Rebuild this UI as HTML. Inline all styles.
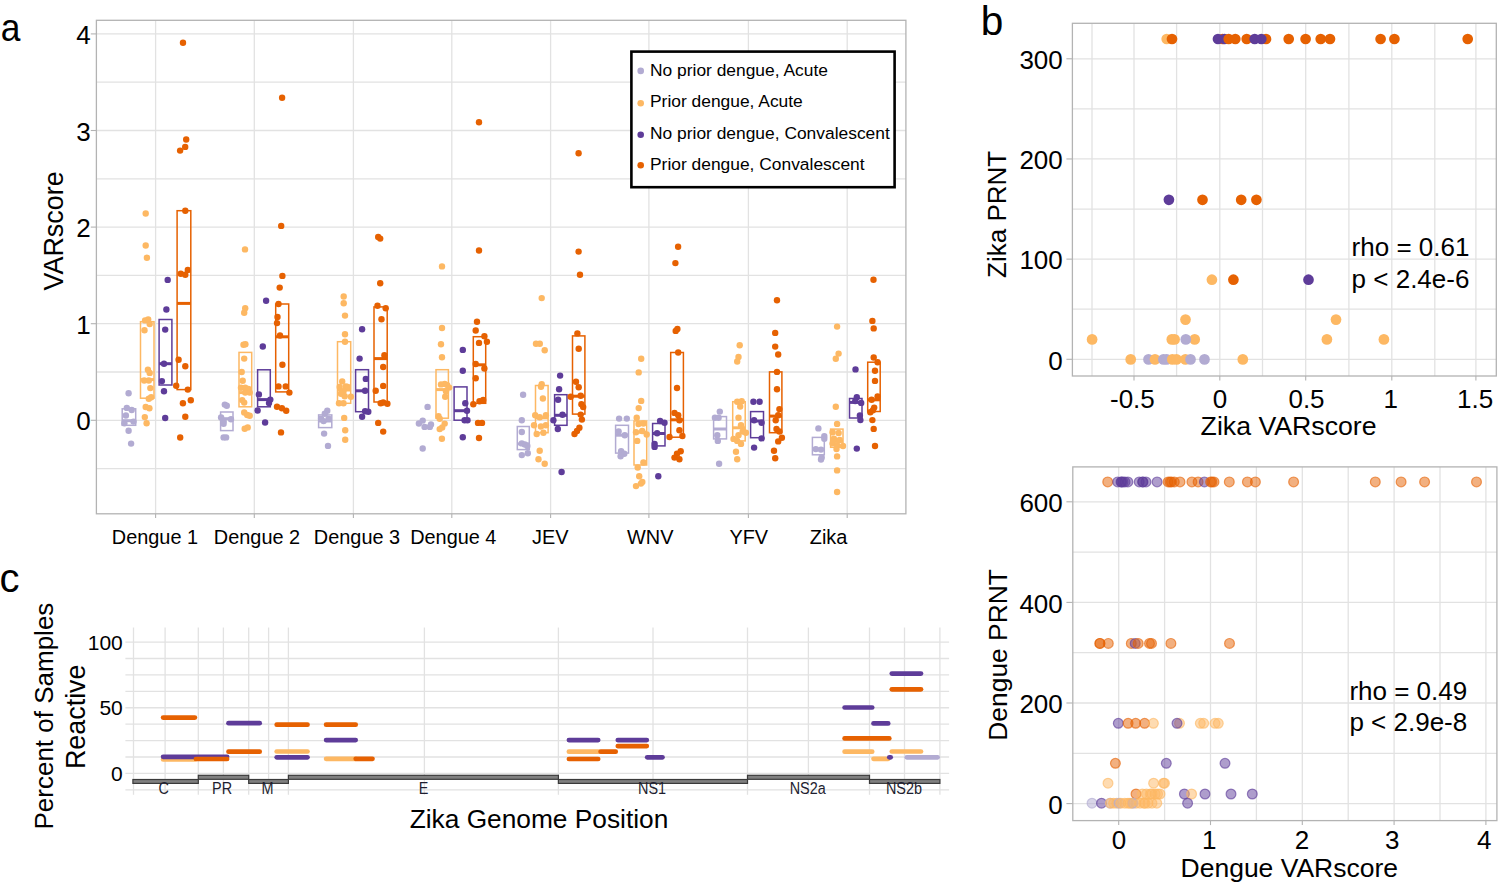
<!DOCTYPE html><html><head><meta charset="utf-8"><style>html,body{margin:0;padding:0;background:#fff;}svg{display:block;font-family:"Liberation Sans",sans-serif;}</style></head><body>
<svg width="1500" height="886" viewBox="0 0 1500 886">
<rect x="0" y="0" width="1500" height="886" fill="#fff"/>
<line x1="96.4" y1="33.9" x2="905.9" y2="33.9" stroke="#e2e2e2" stroke-width="1.3"/>
<line x1="96.4" y1="82.2" x2="905.9" y2="82.2" stroke="#e2e2e2" stroke-width="1.3"/>
<line x1="96.4" y1="130.5" x2="905.9" y2="130.5" stroke="#e2e2e2" stroke-width="1.3"/>
<line x1="96.4" y1="178.8" x2="905.9" y2="178.8" stroke="#e2e2e2" stroke-width="1.3"/>
<line x1="96.4" y1="227.1" x2="905.9" y2="227.1" stroke="#e2e2e2" stroke-width="1.3"/>
<line x1="96.4" y1="275.4" x2="905.9" y2="275.4" stroke="#e2e2e2" stroke-width="1.3"/>
<line x1="96.4" y1="323.7" x2="905.9" y2="323.7" stroke="#e2e2e2" stroke-width="1.3"/>
<line x1="96.4" y1="372" x2="905.9" y2="372" stroke="#e2e2e2" stroke-width="1.3"/>
<line x1="96.4" y1="420.3" x2="905.9" y2="420.3" stroke="#e2e2e2" stroke-width="1.3"/>
<line x1="96.4" y1="468.6" x2="905.9" y2="468.6" stroke="#e2e2e2" stroke-width="1.3"/>
<line x1="155.6" y1="20.3" x2="155.6" y2="513.8" stroke="#e2e2e2" stroke-width="1.3"/>
<line x1="254.3" y1="20.3" x2="254.3" y2="513.8" stroke="#e2e2e2" stroke-width="1.3"/>
<line x1="353.4" y1="20.3" x2="353.4" y2="513.8" stroke="#e2e2e2" stroke-width="1.3"/>
<line x1="451.8" y1="20.3" x2="451.8" y2="513.8" stroke="#e2e2e2" stroke-width="1.3"/>
<line x1="550.6" y1="20.3" x2="550.6" y2="513.8" stroke="#e2e2e2" stroke-width="1.3"/>
<line x1="648.9" y1="20.3" x2="648.9" y2="513.8" stroke="#e2e2e2" stroke-width="1.3"/>
<line x1="748.4" y1="20.3" x2="748.4" y2="513.8" stroke="#e2e2e2" stroke-width="1.3"/>
<line x1="847.2" y1="20.3" x2="847.2" y2="513.8" stroke="#e2e2e2" stroke-width="1.3"/>
<rect x="96.4" y="20.3" width="809.5" height="493.5" fill="none" stroke="#b3b3b3" stroke-width="1.3"/>
<line x1="90.8" y1="420.3" x2="96.4" y2="420.3" stroke="#b3b3b3" stroke-width="1.1"/>
<text x="90.8" y="430.3" font-size="26" text-anchor="end" fill="#000">0</text>
<line x1="90.8" y1="323.7" x2="96.4" y2="323.7" stroke="#b3b3b3" stroke-width="1.1"/>
<text x="90.8" y="333.7" font-size="26" text-anchor="end" fill="#000">1</text>
<line x1="90.8" y1="227.1" x2="96.4" y2="227.1" stroke="#b3b3b3" stroke-width="1.1"/>
<text x="90.8" y="237.1" font-size="26" text-anchor="end" fill="#000">2</text>
<line x1="90.8" y1="130.5" x2="96.4" y2="130.5" stroke="#b3b3b3" stroke-width="1.1"/>
<text x="90.8" y="140.5" font-size="26" text-anchor="end" fill="#000">3</text>
<line x1="90.8" y1="33.9" x2="96.4" y2="33.9" stroke="#b3b3b3" stroke-width="1.1"/>
<text x="90.8" y="43.9" font-size="26" text-anchor="end" fill="#000">4</text>
<line x1="155.6" y1="513.8" x2="155.6" y2="518" stroke="#b3b3b3" stroke-width="1.1"/>
<line x1="254.3" y1="513.8" x2="254.3" y2="518" stroke="#b3b3b3" stroke-width="1.1"/>
<line x1="353.4" y1="513.8" x2="353.4" y2="518" stroke="#b3b3b3" stroke-width="1.1"/>
<line x1="451.8" y1="513.8" x2="451.8" y2="518" stroke="#b3b3b3" stroke-width="1.1"/>
<line x1="550.6" y1="513.8" x2="550.6" y2="518" stroke="#b3b3b3" stroke-width="1.1"/>
<line x1="648.9" y1="513.8" x2="648.9" y2="518" stroke="#b3b3b3" stroke-width="1.1"/>
<line x1="748.4" y1="513.8" x2="748.4" y2="518" stroke="#b3b3b3" stroke-width="1.1"/>
<line x1="847.2" y1="513.8" x2="847.2" y2="518" stroke="#b3b3b3" stroke-width="1.1"/>
<text x="154.9" y="543.8" font-size="19.9" text-anchor="middle" fill="#000">Dengue 1</text>
<text x="257" y="543.8" font-size="19.9" text-anchor="middle" fill="#000">Dengue 2</text>
<text x="357" y="543.8" font-size="19.9" text-anchor="middle" fill="#000">Dengue 3</text>
<text x="453.3" y="543.8" font-size="19.9" text-anchor="middle" fill="#000">Dengue 4</text>
<text x="550.3" y="543.8" font-size="19.9" text-anchor="middle" fill="#000">JEV</text>
<text x="650.3" y="543.8" font-size="19.9" text-anchor="middle" fill="#000">WNV</text>
<text x="748.8" y="543.8" font-size="19.9" text-anchor="middle" fill="#000">YFV</text>
<text x="828.6" y="543.8" font-size="19.9" text-anchor="middle" fill="#000">Zika</text>
<text transform="translate(62.8,230.9) rotate(-90)" x="0" y="0" font-size="26.9" text-anchor="middle" fill="#000">VARscore</text>
<text transform="translate(0.8,41.3) scale(0.92,1)" x="0" y="0" font-size="38.5" text-anchor="start" fill="#000">a</text>
<rect x="122.2" y="408.8" width="13.5" height="16.5" fill="none" stroke="#b2abd2" stroke-width="1.5"/>
<line x1="122.2" y1="420.7" x2="135.7" y2="420.7" stroke="#b2abd2" stroke-width="3"/>
<circle cx="128.6" cy="393.3" r="3.2" fill="#b2abd2"/>
<circle cx="126.8" cy="407.9" r="3.2" fill="#b2abd2"/>
<circle cx="131.7" cy="410" r="3.2" fill="#b2abd2"/>
<circle cx="125.9" cy="415.5" r="3.2" fill="#b2abd2"/>
<circle cx="133.5" cy="421.6" r="3.2" fill="#b2abd2"/>
<circle cx="124.4" cy="423.2" r="3.2" fill="#b2abd2"/>
<circle cx="128.6" cy="430.8" r="3.2" fill="#b2abd2"/>
<circle cx="131.1" cy="443.6" r="3.2" fill="#b2abd2"/>
<rect x="140.5" y="321.7" width="13.5" height="76.5" fill="none" stroke="#fdb863" stroke-width="1.5"/>
<line x1="140.5" y1="379.6" x2="154" y2="379.6" stroke="#fdb863" stroke-width="3"/>
<circle cx="145.7" cy="213.5" r="3.2" fill="#fdb863"/>
<circle cx="145.7" cy="245.5" r="3.2" fill="#fdb863"/>
<circle cx="146.9" cy="257.7" r="3.2" fill="#fdb863"/>
<circle cx="145.1" cy="320.4" r="3.2" fill="#fdb863"/>
<circle cx="148.2" cy="319.5" r="3.2" fill="#fdb863"/>
<circle cx="149.7" cy="324.1" r="3.2" fill="#fdb863"/>
<circle cx="144.5" cy="330.2" r="3.2" fill="#fdb863"/>
<circle cx="147.9" cy="369.8" r="3.2" fill="#fdb863"/>
<circle cx="149.7" cy="372.9" r="3.2" fill="#fdb863"/>
<circle cx="144.2" cy="380.5" r="3.2" fill="#fdb863"/>
<circle cx="148.8" cy="380.5" r="3.2" fill="#fdb863"/>
<circle cx="150.3" cy="388.1" r="3.2" fill="#fdb863"/>
<circle cx="151.2" cy="397.3" r="3.2" fill="#fdb863"/>
<circle cx="148.8" cy="398.8" r="3.2" fill="#fdb863"/>
<circle cx="145.7" cy="407" r="3.2" fill="#fdb863"/>
<circle cx="149.4" cy="408.2" r="3.2" fill="#fdb863"/>
<circle cx="144.8" cy="417.1" r="3.2" fill="#fdb863"/>
<circle cx="146.6" cy="423.2" r="3.2" fill="#fdb863"/>
<rect x="159.1" y="319.5" width="12.8" height="65.5" fill="none" stroke="#5e3c99" stroke-width="1.5"/>
<line x1="159.1" y1="363.7" x2="171.9" y2="363.7" stroke="#5e3c99" stroke-width="3"/>
<circle cx="167.7" cy="279.9" r="3.2" fill="#5e3c99"/>
<circle cx="166.4" cy="309.5" r="3.2" fill="#5e3c99"/>
<circle cx="165.2" cy="329.6" r="3.2" fill="#5e3c99"/>
<circle cx="164" cy="363.7" r="3.2" fill="#5e3c99"/>
<circle cx="161.9" cy="381.1" r="3.2" fill="#5e3c99"/>
<circle cx="164" cy="391.2" r="3.2" fill="#5e3c99"/>
<circle cx="165.2" cy="418" r="3.2" fill="#5e3c99"/>
<rect x="177.1" y="210.7" width="13.7" height="178.9" fill="none" stroke="#e66101" stroke-width="1.5"/>
<line x1="177.1" y1="303.4" x2="190.8" y2="303.4" stroke="#e66101" stroke-width="3"/>
<circle cx="183" cy="42.8" r="3.2" fill="#e66101"/>
<circle cx="186.2" cy="139.5" r="3.2" fill="#e66101"/>
<circle cx="185.2" cy="146.9" r="3.2" fill="#e66101"/>
<circle cx="180.1" cy="150.6" r="3.2" fill="#e66101"/>
<circle cx="185.3" cy="210.7" r="3.2" fill="#e66101"/>
<circle cx="180.8" cy="273.8" r="3.2" fill="#e66101"/>
<circle cx="185.3" cy="274.7" r="3.2" fill="#e66101"/>
<circle cx="187.8" cy="269.9" r="3.2" fill="#e66101"/>
<circle cx="178.6" cy="359.8" r="3.2" fill="#e66101"/>
<circle cx="185.3" cy="366.2" r="3.2" fill="#e66101"/>
<circle cx="176.2" cy="385.7" r="3.2" fill="#e66101"/>
<circle cx="187.8" cy="389.6" r="3.2" fill="#e66101"/>
<circle cx="182.9" cy="403.3" r="3.2" fill="#e66101"/>
<circle cx="190.8" cy="400.3" r="3.2" fill="#e66101"/>
<circle cx="185.3" cy="416.8" r="3.2" fill="#e66101"/>
<circle cx="180.2" cy="437.5" r="3.2" fill="#e66101"/>
<rect x="220.6" y="412" width="12.4" height="18.6" fill="none" stroke="#b2abd2" stroke-width="1.5"/>
<line x1="220.6" y1="418.7" x2="233" y2="418.7" stroke="#b2abd2" stroke-width="3"/>
<circle cx="224.8" cy="404.6" r="3.2" fill="#b2abd2"/>
<circle cx="226.8" cy="405.8" r="3.2" fill="#b2abd2"/>
<circle cx="221.1" cy="417.5" r="3.2" fill="#b2abd2"/>
<circle cx="223.6" cy="421.2" r="3.2" fill="#b2abd2"/>
<circle cx="231" cy="419.2" r="3.2" fill="#b2abd2"/>
<circle cx="223.6" cy="423.7" r="3.2" fill="#b2abd2"/>
<circle cx="223.6" cy="437.4" r="3.2" fill="#b2abd2"/>
<circle cx="226.1" cy="437.4" r="3.2" fill="#b2abd2"/>
<rect x="239" y="352.4" width="12.7" height="54.4" fill="none" stroke="#fdb863" stroke-width="1.5"/>
<line x1="239" y1="392.6" x2="251.7" y2="392.6" stroke="#fdb863" stroke-width="3"/>
<circle cx="245" cy="249.4" r="3.2" fill="#fdb863"/>
<circle cx="245.2" cy="308.2" r="3.2" fill="#fdb863"/>
<circle cx="244.2" cy="312.7" r="3.2" fill="#fdb863"/>
<circle cx="243.5" cy="344.7" r="3.2" fill="#fdb863"/>
<circle cx="245.4" cy="344.2" r="3.2" fill="#fdb863"/>
<circle cx="244.2" cy="358.6" r="3.2" fill="#fdb863"/>
<circle cx="241.7" cy="372" r="3.2" fill="#fdb863"/>
<circle cx="242.7" cy="380.7" r="3.2" fill="#fdb863"/>
<circle cx="241" cy="387.7" r="3.2" fill="#fdb863"/>
<circle cx="245.2" cy="387.7" r="3.2" fill="#fdb863"/>
<circle cx="248.4" cy="388.9" r="3.2" fill="#fdb863"/>
<circle cx="245.2" cy="392.6" r="3.2" fill="#fdb863"/>
<circle cx="249.7" cy="392.6" r="3.2" fill="#fdb863"/>
<circle cx="242.2" cy="400.1" r="3.2" fill="#fdb863"/>
<circle cx="244.2" cy="402.6" r="3.2" fill="#fdb863"/>
<circle cx="244.2" cy="412.5" r="3.2" fill="#fdb863"/>
<circle cx="247.2" cy="415" r="3.2" fill="#fdb863"/>
<circle cx="249.7" cy="415.7" r="3.2" fill="#fdb863"/>
<circle cx="244.7" cy="428.7" r="3.2" fill="#fdb863"/>
<circle cx="247.7" cy="427.4" r="3.2" fill="#fdb863"/>
<rect x="257.6" y="369.8" width="12.7" height="37" fill="none" stroke="#5e3c99" stroke-width="1.5"/>
<line x1="257.6" y1="399.6" x2="270.3" y2="399.6" stroke="#5e3c99" stroke-width="3"/>
<circle cx="266.1" cy="300.8" r="3.2" fill="#5e3c99"/>
<circle cx="262.8" cy="346.5" r="3.2" fill="#5e3c99"/>
<circle cx="258.9" cy="394.4" r="3.2" fill="#5e3c99"/>
<circle cx="270.3" cy="399.6" r="3.2" fill="#5e3c99"/>
<circle cx="269" cy="403.1" r="3.2" fill="#5e3c99"/>
<circle cx="257.6" cy="410.5" r="3.2" fill="#5e3c99"/>
<circle cx="265.1" cy="422.5" r="3.2" fill="#5e3c99"/>
<rect x="275.7" y="304" width="13" height="87.9" fill="none" stroke="#e66101" stroke-width="1.5"/>
<line x1="275.7" y1="336.8" x2="288.7" y2="336.8" stroke="#e66101" stroke-width="3"/>
<circle cx="282.1" cy="97.7" r="3.2" fill="#e66101"/>
<circle cx="281.2" cy="225.9" r="3.2" fill="#e66101"/>
<circle cx="282.4" cy="275.9" r="3.2" fill="#e66101"/>
<circle cx="279.7" cy="287.6" r="3.2" fill="#e66101"/>
<circle cx="278.5" cy="304" r="3.2" fill="#e66101"/>
<circle cx="277.5" cy="316.9" r="3.2" fill="#e66101"/>
<circle cx="277" cy="323.1" r="3.2" fill="#e66101"/>
<circle cx="280" cy="335.5" r="3.2" fill="#e66101"/>
<circle cx="282.4" cy="364.8" r="3.2" fill="#e66101"/>
<circle cx="278.5" cy="386.4" r="3.2" fill="#e66101"/>
<circle cx="285.7" cy="386.4" r="3.2" fill="#e66101"/>
<circle cx="289.4" cy="392.6" r="3.2" fill="#e66101"/>
<circle cx="277" cy="406.8" r="3.2" fill="#e66101"/>
<circle cx="281.9" cy="408.3" r="3.2" fill="#e66101"/>
<circle cx="286.2" cy="410.8" r="3.2" fill="#e66101"/>
<circle cx="281" cy="432.4" r="3.2" fill="#e66101"/>
<rect x="318.6" y="414.9" width="13.2" height="12.7" fill="none" stroke="#b2abd2" stroke-width="1.5"/>
<line x1="318.6" y1="421" x2="331.8" y2="421" stroke="#b2abd2" stroke-width="3"/>
<circle cx="327.3" cy="410.7" r="3.2" fill="#b2abd2"/>
<circle cx="324.8" cy="413.7" r="3.2" fill="#b2abd2"/>
<circle cx="321.1" cy="418.7" r="3.2" fill="#b2abd2"/>
<circle cx="323.6" cy="421.1" r="3.2" fill="#b2abd2"/>
<circle cx="328.6" cy="418.7" r="3.2" fill="#b2abd2"/>
<circle cx="324.1" cy="433.6" r="3.2" fill="#b2abd2"/>
<circle cx="328" cy="445.9" r="3.2" fill="#b2abd2"/>
<rect x="337.5" y="341.7" width="13.2" height="61.6" fill="none" stroke="#fdb863" stroke-width="1.5"/>
<line x1="337.5" y1="390" x2="350.7" y2="390" stroke="#fdb863" stroke-width="3"/>
<circle cx="343.7" cy="296.5" r="3.2" fill="#fdb863"/>
<circle cx="343.7" cy="303.2" r="3.2" fill="#fdb863"/>
<circle cx="345" cy="315.6" r="3.2" fill="#fdb863"/>
<circle cx="345" cy="334.2" r="3.2" fill="#fdb863"/>
<circle cx="345" cy="341.7" r="3.2" fill="#fdb863"/>
<circle cx="342.2" cy="381.4" r="3.2" fill="#fdb863"/>
<circle cx="339.7" cy="386.9" r="3.2" fill="#fdb863"/>
<circle cx="345.9" cy="386.4" r="3.2" fill="#fdb863"/>
<circle cx="347.7" cy="386.9" r="3.2" fill="#fdb863"/>
<circle cx="343.5" cy="391.3" r="3.2" fill="#fdb863"/>
<circle cx="341" cy="393.8" r="3.2" fill="#fdb863"/>
<circle cx="344.7" cy="396.3" r="3.2" fill="#fdb863"/>
<circle cx="350.9" cy="396.8" r="3.2" fill="#fdb863"/>
<circle cx="339" cy="403.3" r="3.2" fill="#fdb863"/>
<circle cx="343.5" cy="403.3" r="3.2" fill="#fdb863"/>
<circle cx="344.2" cy="417.9" r="3.2" fill="#fdb863"/>
<circle cx="345.2" cy="430.3" r="3.2" fill="#fdb863"/>
<circle cx="345.2" cy="439.8" r="3.2" fill="#fdb863"/>
<rect x="355.6" y="369.7" width="12.9" height="42" fill="none" stroke="#5e3c99" stroke-width="1.5"/>
<line x1="355.6" y1="390.8" x2="368.5" y2="390.8" stroke="#5e3c99" stroke-width="3"/>
<circle cx="362.1" cy="329.3" r="3.2" fill="#5e3c99"/>
<circle cx="359.6" cy="358.6" r="3.2" fill="#5e3c99"/>
<circle cx="365.8" cy="378.9" r="3.2" fill="#5e3c99"/>
<circle cx="365.1" cy="390.8" r="3.2" fill="#5e3c99"/>
<circle cx="365.1" cy="411.2" r="3.2" fill="#5e3c99"/>
<circle cx="368.3" cy="411.7" r="3.2" fill="#5e3c99"/>
<circle cx="362.1" cy="416.7" r="3.2" fill="#5e3c99"/>
<rect x="374" y="306.9" width="13.2" height="95.1" fill="none" stroke="#e66101" stroke-width="1.5"/>
<line x1="374" y1="358.6" x2="387.2" y2="358.6" stroke="#e66101" stroke-width="3"/>
<circle cx="378.2" cy="236.9" r="3.2" fill="#e66101"/>
<circle cx="380.2" cy="238.6" r="3.2" fill="#e66101"/>
<circle cx="380.2" cy="283.3" r="3.2" fill="#e66101"/>
<circle cx="377.5" cy="305.7" r="3.2" fill="#e66101"/>
<circle cx="385.7" cy="308.2" r="3.2" fill="#e66101"/>
<circle cx="381.5" cy="319.3" r="3.2" fill="#e66101"/>
<circle cx="384.4" cy="355.3" r="3.2" fill="#e66101"/>
<circle cx="383.2" cy="367" r="3.2" fill="#e66101"/>
<circle cx="383.2" cy="385.9" r="3.2" fill="#e66101"/>
<circle cx="375.7" cy="390.8" r="3.2" fill="#e66101"/>
<circle cx="380.7" cy="403.3" r="3.2" fill="#e66101"/>
<circle cx="383.2" cy="402.5" r="3.2" fill="#e66101"/>
<circle cx="387.4" cy="403.8" r="3.2" fill="#e66101"/>
<circle cx="378.2" cy="422.9" r="3.2" fill="#e66101"/>
<circle cx="383.2" cy="431.6" r="3.2" fill="#e66101"/>
<circle cx="427.6" cy="406.9" r="3.2" fill="#b2abd2"/>
<circle cx="418.9" cy="423.5" r="3.2" fill="#b2abd2"/>
<circle cx="422.7" cy="420.6" r="3.2" fill="#b2abd2"/>
<circle cx="424.6" cy="426.9" r="3.2" fill="#b2abd2"/>
<circle cx="429.8" cy="426.9" r="3.2" fill="#b2abd2"/>
<circle cx="431" cy="424.5" r="3.2" fill="#b2abd2"/>
<circle cx="422.7" cy="448.5" r="3.2" fill="#b2abd2"/>
<rect x="436" y="369.7" width="12.4" height="48.5" fill="none" stroke="#fdb863" stroke-width="1.5"/>
<line x1="436" y1="389.6" x2="448.4" y2="389.6" stroke="#fdb863" stroke-width="3"/>
<circle cx="442" cy="266.4" r="3.2" fill="#fdb863"/>
<circle cx="442" cy="328" r="3.2" fill="#fdb863"/>
<circle cx="441" cy="344.2" r="3.2" fill="#fdb863"/>
<circle cx="442" cy="357.3" r="3.2" fill="#fdb863"/>
<circle cx="441" cy="384.4" r="3.2" fill="#fdb863"/>
<circle cx="444.7" cy="383.9" r="3.2" fill="#fdb863"/>
<circle cx="447.2" cy="385.1" r="3.2" fill="#fdb863"/>
<circle cx="449.2" cy="387.6" r="3.2" fill="#fdb863"/>
<circle cx="446" cy="391.3" r="3.2" fill="#fdb863"/>
<circle cx="445.2" cy="396.8" r="3.2" fill="#fdb863"/>
<circle cx="438.5" cy="416.2" r="3.2" fill="#fdb863"/>
<circle cx="439.7" cy="418.7" r="3.2" fill="#fdb863"/>
<circle cx="444.7" cy="423.6" r="3.2" fill="#fdb863"/>
<circle cx="442.2" cy="427.4" r="3.2" fill="#fdb863"/>
<circle cx="439.7" cy="429.1" r="3.2" fill="#fdb863"/>
<circle cx="441.9" cy="438.7" r="3.2" fill="#fdb863"/>
<rect x="454.1" y="386.9" width="12.9" height="33.3" fill="none" stroke="#5e3c99" stroke-width="1.5"/>
<line x1="454.1" y1="410.7" x2="467" y2="410.7" stroke="#5e3c99" stroke-width="3"/>
<circle cx="462.8" cy="349.9" r="3.2" fill="#5e3c99"/>
<circle cx="462.8" cy="370.7" r="3.2" fill="#5e3c99"/>
<circle cx="465.3" cy="403.3" r="3.2" fill="#5e3c99"/>
<circle cx="467" cy="410.7" r="3.2" fill="#5e3c99"/>
<circle cx="464.6" cy="420.2" r="3.2" fill="#5e3c99"/>
<circle cx="467.5" cy="420.2" r="3.2" fill="#5e3c99"/>
<circle cx="462.8" cy="437.3" r="3.2" fill="#5e3c99"/>
<rect x="473.3" y="336.7" width="12.4" height="66.6" fill="none" stroke="#e66101" stroke-width="1.5"/>
<line x1="473.3" y1="364.8" x2="485.7" y2="364.8" stroke="#e66101" stroke-width="3"/>
<circle cx="479" cy="122.3" r="3.2" fill="#e66101"/>
<circle cx="479" cy="250.5" r="3.2" fill="#e66101"/>
<circle cx="477" cy="321.8" r="3.2" fill="#e66101"/>
<circle cx="475.7" cy="330.5" r="3.2" fill="#e66101"/>
<circle cx="484.4" cy="336.2" r="3.2" fill="#e66101"/>
<circle cx="486.9" cy="341.7" r="3.2" fill="#e66101"/>
<circle cx="479" cy="342.9" r="3.2" fill="#e66101"/>
<circle cx="475.7" cy="364" r="3.2" fill="#e66101"/>
<circle cx="484.4" cy="368.5" r="3.2" fill="#e66101"/>
<circle cx="475.7" cy="378.2" r="3.2" fill="#e66101"/>
<circle cx="473.3" cy="404.3" r="3.2" fill="#e66101"/>
<circle cx="479.5" cy="401.3" r="3.2" fill="#e66101"/>
<circle cx="483.2" cy="400" r="3.2" fill="#e66101"/>
<circle cx="478" cy="422.9" r="3.2" fill="#e66101"/>
<circle cx="482" cy="422.9" r="3.2" fill="#e66101"/>
<circle cx="479" cy="438" r="3.2" fill="#e66101"/>
<rect x="517.3" y="426.5" width="12" height="23.1" fill="none" stroke="#b2abd2" stroke-width="1.5"/>
<line x1="517.3" y1="443.9" x2="529.3" y2="443.9" stroke="#b2abd2" stroke-width="3"/>
<circle cx="523.1" cy="394.7" r="3.2" fill="#b2abd2"/>
<circle cx="521.8" cy="420.3" r="3.2" fill="#b2abd2"/>
<circle cx="521.8" cy="432" r="3.2" fill="#b2abd2"/>
<circle cx="521.8" cy="443.4" r="3.2" fill="#b2abd2"/>
<circle cx="524.8" cy="444.4" r="3.2" fill="#b2abd2"/>
<circle cx="527.3" cy="445.9" r="3.2" fill="#b2abd2"/>
<circle cx="521.8" cy="455.1" r="3.2" fill="#b2abd2"/>
<circle cx="527.8" cy="453.3" r="3.2" fill="#b2abd2"/>
<rect x="535.5" y="385.5" width="12.6" height="47.2" fill="none" stroke="#fdb863" stroke-width="1.5"/>
<line x1="535.5" y1="417.8" x2="548.1" y2="417.8" stroke="#fdb863" stroke-width="3"/>
<circle cx="541.7" cy="298.1" r="3.2" fill="#fdb863"/>
<circle cx="536" cy="343.8" r="3.2" fill="#fdb863"/>
<circle cx="539.8" cy="343.8" r="3.2" fill="#fdb863"/>
<circle cx="544.7" cy="350.3" r="3.2" fill="#fdb863"/>
<circle cx="541.7" cy="384.3" r="3.2" fill="#fdb863"/>
<circle cx="541" cy="386.8" r="3.2" fill="#fdb863"/>
<circle cx="542.9" cy="398.5" r="3.2" fill="#fdb863"/>
<circle cx="535.2" cy="415.3" r="3.2" fill="#fdb863"/>
<circle cx="539.7" cy="417.3" r="3.2" fill="#fdb863"/>
<circle cx="545.9" cy="415.3" r="3.2" fill="#fdb863"/>
<circle cx="534" cy="425.3" r="3.2" fill="#fdb863"/>
<circle cx="540.9" cy="426.5" r="3.2" fill="#fdb863"/>
<circle cx="545.9" cy="425.3" r="3.2" fill="#fdb863"/>
<circle cx="536.7" cy="434" r="3.2" fill="#fdb863"/>
<circle cx="543.4" cy="432.7" r="3.2" fill="#fdb863"/>
<circle cx="539.7" cy="450.8" r="3.2" fill="#fdb863"/>
<circle cx="538.5" cy="459.3" r="3.2" fill="#fdb863"/>
<circle cx="544.7" cy="463.8" r="3.2" fill="#fdb863"/>
<rect x="554.6" y="394.7" width="12.4" height="30.6" fill="none" stroke="#5e3c99" stroke-width="1.5"/>
<line x1="554.6" y1="415.3" x2="567" y2="415.3" stroke="#5e3c99" stroke-width="3"/>
<circle cx="560.1" cy="375.6" r="3.2" fill="#5e3c99"/>
<circle cx="559.1" cy="389.3" r="3.2" fill="#5e3c99"/>
<circle cx="558.1" cy="399.7" r="3.2" fill="#5e3c99"/>
<circle cx="562.5" cy="414.8" r="3.2" fill="#5e3c99"/>
<circle cx="553.4" cy="420.3" r="3.2" fill="#5e3c99"/>
<circle cx="557.8" cy="429" r="3.2" fill="#5e3c99"/>
<circle cx="561.6" cy="472" r="3.2" fill="#5e3c99"/>
<rect x="572.5" y="335.9" width="12.4" height="78.2" fill="none" stroke="#e66101" stroke-width="1.5"/>
<line x1="572.5" y1="396.2" x2="584.9" y2="396.2" stroke="#e66101" stroke-width="3"/>
<circle cx="578.6" cy="153.2" r="3.2" fill="#e66101"/>
<circle cx="578.6" cy="251.6" r="3.2" fill="#e66101"/>
<circle cx="580" cy="274.8" r="3.2" fill="#e66101"/>
<circle cx="577.4" cy="333.4" r="3.2" fill="#e66101"/>
<circle cx="578.7" cy="348.8" r="3.2" fill="#e66101"/>
<circle cx="576" cy="381.8" r="3.2" fill="#e66101"/>
<circle cx="578.7" cy="387.3" r="3.2" fill="#e66101"/>
<circle cx="570.7" cy="396.7" r="3.2" fill="#e66101"/>
<circle cx="580.7" cy="395.7" r="3.2" fill="#e66101"/>
<circle cx="581.4" cy="404.2" r="3.2" fill="#e66101"/>
<circle cx="583.2" cy="407.1" r="3.2" fill="#e66101"/>
<circle cx="580.7" cy="414.6" r="3.2" fill="#e66101"/>
<circle cx="581.9" cy="419.6" r="3.2" fill="#e66101"/>
<circle cx="579.4" cy="427.8" r="3.2" fill="#e66101"/>
<circle cx="577" cy="431" r="3.2" fill="#e66101"/>
<circle cx="574.5" cy="434" r="3.2" fill="#e66101"/>
<rect x="615.6" y="425.3" width="12.9" height="27.8" fill="none" stroke="#b2abd2" stroke-width="1.5"/>
<line x1="615.6" y1="435.2" x2="628.5" y2="435.2" stroke="#b2abd2" stroke-width="3"/>
<circle cx="619.1" cy="418.6" r="3.2" fill="#b2abd2"/>
<circle cx="626.8" cy="418.6" r="3.2" fill="#b2abd2"/>
<circle cx="618.6" cy="431.5" r="3.2" fill="#b2abd2"/>
<circle cx="624.8" cy="435.2" r="3.2" fill="#b2abd2"/>
<circle cx="621.1" cy="451.3" r="3.2" fill="#b2abd2"/>
<circle cx="624.3" cy="453.8" r="3.2" fill="#b2abd2"/>
<circle cx="620.6" cy="456.3" r="3.2" fill="#b2abd2"/>
<rect x="634" y="421" width="12.7" height="44" fill="none" stroke="#fdb863" stroke-width="1.5"/>
<line x1="634" y1="432.2" x2="646.7" y2="432.2" stroke="#fdb863" stroke-width="3"/>
<circle cx="641.2" cy="358.7" r="3.2" fill="#fdb863"/>
<circle cx="638.7" cy="372.4" r="3.2" fill="#fdb863"/>
<circle cx="641.2" cy="400.9" r="3.2" fill="#fdb863"/>
<circle cx="638.7" cy="408.1" r="3.2" fill="#fdb863"/>
<circle cx="636.7" cy="417.8" r="3.2" fill="#fdb863"/>
<circle cx="638.5" cy="424" r="3.2" fill="#fdb863"/>
<circle cx="643.4" cy="423.5" r="3.2" fill="#fdb863"/>
<circle cx="636" cy="432.2" r="3.2" fill="#fdb863"/>
<circle cx="642.2" cy="431" r="3.2" fill="#fdb863"/>
<circle cx="646.7" cy="434.5" r="3.2" fill="#fdb863"/>
<circle cx="637.2" cy="440.9" r="3.2" fill="#fdb863"/>
<circle cx="643.4" cy="462.5" r="3.2" fill="#fdb863"/>
<circle cx="637.7" cy="467.5" r="3.2" fill="#fdb863"/>
<circle cx="639.2" cy="476.2" r="3.2" fill="#fdb863"/>
<circle cx="640.9" cy="483.6" r="3.2" fill="#fdb863"/>
<circle cx="636" cy="486.1" r="3.2" fill="#fdb863"/>
<circle cx="642.3" cy="482" r="3.2" fill="#fdb863"/>
<rect x="652.6" y="423.5" width="12.4" height="22.4" fill="none" stroke="#5e3c99" stroke-width="1.5"/>
<line x1="652.6" y1="433.5" x2="665" y2="433.5" stroke="#5e3c99" stroke-width="3"/>
<circle cx="660.1" cy="421" r="3.2" fill="#5e3c99"/>
<circle cx="664.5" cy="422.8" r="3.2" fill="#5e3c99"/>
<circle cx="657.1" cy="433.2" r="3.2" fill="#5e3c99"/>
<circle cx="654.6" cy="443.9" r="3.2" fill="#5e3c99"/>
<circle cx="654.6" cy="446.9" r="3.2" fill="#5e3c99"/>
<circle cx="658.3" cy="476.2" r="3.2" fill="#5e3c99"/>
<rect x="670.7" y="352.5" width="12.7" height="84.7" fill="none" stroke="#e66101" stroke-width="1.5"/>
<line x1="670.7" y1="419.8" x2="683.4" y2="419.8" stroke="#e66101" stroke-width="3"/>
<circle cx="678.1" cy="246.7" r="3.2" fill="#e66101"/>
<circle cx="675.4" cy="263.1" r="3.2" fill="#e66101"/>
<circle cx="675.7" cy="330.9" r="3.2" fill="#e66101"/>
<circle cx="677.4" cy="328.9" r="3.2" fill="#e66101"/>
<circle cx="678.2" cy="352.5" r="3.2" fill="#e66101"/>
<circle cx="677" cy="388" r="3.2" fill="#e66101"/>
<circle cx="674.5" cy="412.9" r="3.2" fill="#e66101"/>
<circle cx="678.2" cy="415.3" r="3.2" fill="#e66101"/>
<circle cx="679.4" cy="420.3" r="3.2" fill="#e66101"/>
<circle cx="679.4" cy="430.2" r="3.2" fill="#e66101"/>
<circle cx="682.4" cy="436" r="3.2" fill="#e66101"/>
<circle cx="669.5" cy="437" r="3.2" fill="#e66101"/>
<circle cx="680.7" cy="451.3" r="3.2" fill="#e66101"/>
<circle cx="677" cy="453.8" r="3.2" fill="#e66101"/>
<circle cx="674.5" cy="457.6" r="3.2" fill="#e66101"/>
<circle cx="679.4" cy="459.3" r="3.2" fill="#e66101"/>
<rect x="713.6" y="416.6" width="12.9" height="22.3" fill="none" stroke="#b2abd2" stroke-width="1.5"/>
<line x1="713.6" y1="429" x2="726.5" y2="429" stroke="#b2abd2" stroke-width="3"/>
<circle cx="719.8" cy="411.6" r="3.2" fill="#b2abd2"/>
<circle cx="714.9" cy="417.8" r="3.2" fill="#b2abd2"/>
<circle cx="718.6" cy="417.8" r="3.2" fill="#b2abd2"/>
<circle cx="717.3" cy="435.2" r="3.2" fill="#b2abd2"/>
<circle cx="717.8" cy="440.9" r="3.2" fill="#b2abd2"/>
<circle cx="719.1" cy="463.8" r="3.2" fill="#b2abd2"/>
<rect x="732.7" y="401.7" width="12.5" height="39.2" fill="none" stroke="#fdb863" stroke-width="1.5"/>
<line x1="732.7" y1="427.8" x2="745.2" y2="427.8" stroke="#fdb863" stroke-width="3"/>
<circle cx="739.7" cy="345.3" r="3.2" fill="#fdb863"/>
<circle cx="738.5" cy="357" r="3.2" fill="#fdb863"/>
<circle cx="737.2" cy="361.5" r="3.2" fill="#fdb863"/>
<circle cx="737.2" cy="401.7" r="3.2" fill="#fdb863"/>
<circle cx="741.7" cy="401.2" r="3.2" fill="#fdb863"/>
<circle cx="740.2" cy="406.6" r="3.2" fill="#fdb863"/>
<circle cx="738.5" cy="417.8" r="3.2" fill="#fdb863"/>
<circle cx="741" cy="425.3" r="3.2" fill="#fdb863"/>
<circle cx="742.7" cy="431.5" r="3.2" fill="#fdb863"/>
<circle cx="745.9" cy="432.7" r="3.2" fill="#fdb863"/>
<circle cx="738.5" cy="435.2" r="3.2" fill="#fdb863"/>
<circle cx="733.5" cy="438.9" r="3.2" fill="#fdb863"/>
<circle cx="737.2" cy="440.9" r="3.2" fill="#fdb863"/>
<circle cx="741" cy="443.9" r="3.2" fill="#fdb863"/>
<circle cx="736" cy="451.8" r="3.2" fill="#fdb863"/>
<circle cx="737.2" cy="459.3" r="3.2" fill="#fdb863"/>
<rect x="750.6" y="411.6" width="12.9" height="26.1" fill="none" stroke="#5e3c99" stroke-width="1.5"/>
<line x1="750.6" y1="421" x2="763.5" y2="421" stroke="#5e3c99" stroke-width="3"/>
<circle cx="753.4" cy="401.7" r="3.2" fill="#5e3c99"/>
<circle cx="759.6" cy="401.7" r="3.2" fill="#5e3c99"/>
<circle cx="754.1" cy="420.3" r="3.2" fill="#5e3c99"/>
<circle cx="761.6" cy="422.8" r="3.2" fill="#5e3c99"/>
<circle cx="761.6" cy="438.4" r="3.2" fill="#5e3c99"/>
<circle cx="754.1" cy="447.6" r="3.2" fill="#5e3c99"/>
<rect x="769.5" y="371.9" width="12.4" height="60.8" fill="none" stroke="#e66101" stroke-width="1.5"/>
<line x1="769.5" y1="416.1" x2="781.9" y2="416.1" stroke="#e66101" stroke-width="3"/>
<circle cx="777" cy="300.3" r="3.2" fill="#e66101"/>
<circle cx="775.2" cy="332.9" r="3.2" fill="#e66101"/>
<circle cx="775.2" cy="346.6" r="3.2" fill="#e66101"/>
<circle cx="778.2" cy="354.5" r="3.2" fill="#e66101"/>
<circle cx="777" cy="371.9" r="3.2" fill="#e66101"/>
<circle cx="777" cy="389.3" r="3.2" fill="#e66101"/>
<circle cx="779.4" cy="409.1" r="3.2" fill="#e66101"/>
<circle cx="778.2" cy="415.3" r="3.2" fill="#e66101"/>
<circle cx="775.7" cy="420.3" r="3.2" fill="#e66101"/>
<circle cx="776.5" cy="429" r="3.2" fill="#e66101"/>
<circle cx="779.4" cy="431.5" r="3.2" fill="#e66101"/>
<circle cx="781.9" cy="437.7" r="3.2" fill="#e66101"/>
<circle cx="778.2" cy="441.4" r="3.2" fill="#e66101"/>
<circle cx="774" cy="450.8" r="3.2" fill="#e66101"/>
<circle cx="775.2" cy="458.3" r="3.2" fill="#e66101"/>
<rect x="812.4" y="437.4" width="11.9" height="17.4" fill="none" stroke="#b2abd2" stroke-width="1.5"/>
<line x1="812.4" y1="449.1" x2="824.3" y2="449.1" stroke="#b2abd2" stroke-width="3"/>
<circle cx="818.4" cy="428.4" r="3.2" fill="#b2abd2"/>
<circle cx="824.3" cy="436.1" r="3.2" fill="#b2abd2"/>
<circle cx="824.3" cy="438.7" r="3.2" fill="#b2abd2"/>
<circle cx="815.8" cy="449.1" r="3.2" fill="#b2abd2"/>
<circle cx="821" cy="449.6" r="3.2" fill="#b2abd2"/>
<circle cx="821.7" cy="457.4" r="3.2" fill="#b2abd2"/>
<circle cx="821" cy="459.5" r="3.2" fill="#b2abd2"/>
<rect x="830.6" y="429.1" width="12.4" height="18.2" fill="none" stroke="#fdb863" stroke-width="1.5"/>
<line x1="830.6" y1="441.3" x2="843" y2="441.3" stroke="#fdb863" stroke-width="3"/>
<circle cx="837.1" cy="326.6" r="3.2" fill="#fdb863"/>
<circle cx="838.6" cy="353.6" r="3.2" fill="#fdb863"/>
<circle cx="835.8" cy="358.8" r="3.2" fill="#fdb863"/>
<circle cx="835.8" cy="406.8" r="3.2" fill="#fdb863"/>
<circle cx="837.1" cy="423.9" r="3.2" fill="#fdb863"/>
<circle cx="832.6" cy="432.3" r="3.2" fill="#fdb863"/>
<circle cx="838.6" cy="433" r="3.2" fill="#fdb863"/>
<circle cx="833.9" cy="438.7" r="3.2" fill="#fdb863"/>
<circle cx="839.7" cy="440" r="3.2" fill="#fdb863"/>
<circle cx="832.6" cy="443.4" r="3.2" fill="#fdb863"/>
<circle cx="837.1" cy="445.2" r="3.2" fill="#fdb863"/>
<circle cx="843" cy="446" r="3.2" fill="#fdb863"/>
<circle cx="836.5" cy="449.1" r="3.2" fill="#fdb863"/>
<circle cx="837.1" cy="456.4" r="3.2" fill="#fdb863"/>
<circle cx="837.1" cy="470.4" r="3.2" fill="#fdb863"/>
<circle cx="837.1" cy="492" r="3.2" fill="#fdb863"/>
<rect x="849.5" y="398.5" width="12.5" height="19.5" fill="none" stroke="#5e3c99" stroke-width="1.5"/>
<line x1="849.5" y1="402.4" x2="862" y2="402.4" stroke="#5e3c99" stroke-width="3"/>
<circle cx="855.5" cy="369.4" r="3.2" fill="#5e3c99"/>
<circle cx="856.8" cy="397.2" r="3.2" fill="#5e3c99"/>
<circle cx="855.2" cy="401.1" r="3.2" fill="#5e3c99"/>
<circle cx="861.2" cy="402.9" r="3.2" fill="#5e3c99"/>
<circle cx="859.9" cy="415.4" r="3.2" fill="#5e3c99"/>
<circle cx="860.4" cy="420.1" r="3.2" fill="#5e3c99"/>
<circle cx="856.8" cy="448.6" r="3.2" fill="#5e3c99"/>
<rect x="867.7" y="362.2" width="12.5" height="49.3" fill="none" stroke="#e66101" stroke-width="1.5"/>
<line x1="867.7" y1="399.8" x2="880.2" y2="399.8" stroke="#e66101" stroke-width="3"/>
<circle cx="873.5" cy="279.8" r="3.2" fill="#e66101"/>
<circle cx="872.4" cy="320.9" r="3.2" fill="#e66101"/>
<circle cx="873.7" cy="328.4" r="3.2" fill="#e66101"/>
<circle cx="873.7" cy="357.5" r="3.2" fill="#e66101"/>
<circle cx="877.6" cy="362.2" r="3.2" fill="#e66101"/>
<circle cx="875" cy="370.7" r="3.2" fill="#e66101"/>
<circle cx="875" cy="380.9" r="3.2" fill="#e66101"/>
<circle cx="877.6" cy="396.4" r="3.2" fill="#e66101"/>
<circle cx="871.6" cy="399.8" r="3.2" fill="#e66101"/>
<circle cx="874.2" cy="407.6" r="3.2" fill="#e66101"/>
<circle cx="870.3" cy="412.3" r="3.2" fill="#e66101"/>
<circle cx="872.9" cy="410.2" r="3.2" fill="#e66101"/>
<circle cx="872.4" cy="420.1" r="3.2" fill="#e66101"/>
<circle cx="873.7" cy="428.9" r="3.2" fill="#e66101"/>
<circle cx="875" cy="446" r="3.2" fill="#e66101"/>
<rect x="631.4" y="51.6" width="263.2" height="135.6" fill="#fff" stroke="#000" stroke-width="2.6"/>
<circle cx="640.7" cy="70.9" r="3.3" fill="#b2abd2"/>
<text x="650" y="75.8" font-size="17.4" text-anchor="start" fill="#000">No prior dengue, Acute</text>
<circle cx="640.7" cy="103.2" r="3.3" fill="#fdb863"/>
<text x="650" y="106.9" font-size="17.4" text-anchor="start" fill="#000">Prior dengue, Acute</text>
<circle cx="640.7" cy="134.7" r="3.3" fill="#5e3c99"/>
<text x="650" y="138.7" font-size="17.4" text-anchor="start" fill="#000">No prior dengue, Convalescent</text>
<circle cx="640.7" cy="165.3" r="3.3" fill="#e66101"/>
<text x="650" y="170" font-size="17.4" text-anchor="start" fill="#000">Prior dengue, Convalescent</text>
<line x1="1092" y1="23.3" x2="1092" y2="376" stroke="#e2e2e2" stroke-width="1.3"/>
<line x1="1134" y1="23.3" x2="1134" y2="376" stroke="#e2e2e2" stroke-width="1.3"/>
<line x1="1176.6" y1="23.3" x2="1176.6" y2="376" stroke="#e2e2e2" stroke-width="1.3"/>
<line x1="1219.8" y1="23.3" x2="1219.8" y2="376" stroke="#e2e2e2" stroke-width="1.3"/>
<line x1="1262.5" y1="23.3" x2="1262.5" y2="376" stroke="#e2e2e2" stroke-width="1.3"/>
<line x1="1305.7" y1="23.3" x2="1305.7" y2="376" stroke="#e2e2e2" stroke-width="1.3"/>
<line x1="1348.9" y1="23.3" x2="1348.9" y2="376" stroke="#e2e2e2" stroke-width="1.3"/>
<line x1="1391.8" y1="23.3" x2="1391.8" y2="376" stroke="#e2e2e2" stroke-width="1.3"/>
<line x1="1434.8" y1="23.3" x2="1434.8" y2="376" stroke="#e2e2e2" stroke-width="1.3"/>
<line x1="1475.9" y1="23.3" x2="1475.9" y2="376" stroke="#e2e2e2" stroke-width="1.3"/>
<line x1="1072.4" y1="359.3" x2="1496.3" y2="359.3" stroke="#e2e2e2" stroke-width="1.3"/>
<line x1="1072.4" y1="309.22" x2="1496.3" y2="309.22" stroke="#e2e2e2" stroke-width="1.3"/>
<line x1="1072.4" y1="259.13" x2="1496.3" y2="259.13" stroke="#e2e2e2" stroke-width="1.3"/>
<line x1="1072.4" y1="209.05" x2="1496.3" y2="209.05" stroke="#e2e2e2" stroke-width="1.3"/>
<line x1="1072.4" y1="158.96" x2="1496.3" y2="158.96" stroke="#e2e2e2" stroke-width="1.3"/>
<line x1="1072.4" y1="108.88" x2="1496.3" y2="108.88" stroke="#e2e2e2" stroke-width="1.3"/>
<line x1="1072.4" y1="58.79" x2="1496.3" y2="58.79" stroke="#e2e2e2" stroke-width="1.3"/>
<rect x="1072.4" y="23.3" width="423.9" height="352.7" fill="none" stroke="#b3b3b3" stroke-width="1.3"/>
<line x1="1066.4" y1="359.3" x2="1072.4" y2="359.3" stroke="#b3b3b3" stroke-width="1.1"/>
<text x="1062.8" y="369.5" font-size="26" text-anchor="end" fill="#000">0</text>
<line x1="1066.4" y1="259.13" x2="1072.4" y2="259.13" stroke="#b3b3b3" stroke-width="1.1"/>
<text x="1062.8" y="269.33" font-size="26" text-anchor="end" fill="#000">100</text>
<line x1="1066.4" y1="158.96" x2="1072.4" y2="158.96" stroke="#b3b3b3" stroke-width="1.1"/>
<text x="1062.8" y="169.16" font-size="26" text-anchor="end" fill="#000">200</text>
<line x1="1066.4" y1="58.79" x2="1072.4" y2="58.79" stroke="#b3b3b3" stroke-width="1.1"/>
<text x="1062.8" y="68.99" font-size="26" text-anchor="end" fill="#000">300</text>
<line x1="1134" y1="376" x2="1134" y2="380.5" stroke="#b3b3b3" stroke-width="1.1"/>
<text x="1132.4" y="407.7" font-size="26" text-anchor="middle" fill="#000">-0.5</text>
<line x1="1219.8" y1="376" x2="1219.8" y2="380.5" stroke="#b3b3b3" stroke-width="1.1"/>
<text x="1219.9" y="407.7" font-size="26" text-anchor="middle" fill="#000">0</text>
<line x1="1305.7" y1="376" x2="1305.7" y2="380.5" stroke="#b3b3b3" stroke-width="1.1"/>
<text x="1306.5" y="407.7" font-size="26" text-anchor="middle" fill="#000">0.5</text>
<line x1="1391.8" y1="376" x2="1391.8" y2="380.5" stroke="#b3b3b3" stroke-width="1.1"/>
<text x="1390.7" y="407.7" font-size="26" text-anchor="middle" fill="#000">1</text>
<line x1="1475.9" y1="376" x2="1475.9" y2="380.5" stroke="#b3b3b3" stroke-width="1.1"/>
<text x="1475.1" y="407.7" font-size="26" text-anchor="middle" fill="#000">1.5</text>
<text x="1288.6" y="435" font-size="26.7" text-anchor="middle" fill="#000">Zika VARscore</text>
<text transform="translate(1006.3,214.4) rotate(-90)" x="0" y="0" font-size="26" text-anchor="middle" fill="#000">Zika PRNT</text>
<text x="980.8" y="34.5" font-size="40.6" text-anchor="start" fill="#000">b</text>
<text x="1351.6" y="255.9" font-size="26" text-anchor="start" fill="#000">rho = 0.61</text>
<text x="1351.6" y="287.9" font-size="26" text-anchor="start" fill="#000">p &lt; 2.4e-6</text>
<circle cx="1166.7" cy="39" r="5.35" fill="#fdb863"/>
<circle cx="1172" cy="39" r="5.35" fill="#e66101"/>
<circle cx="1222.5" cy="39" r="5.35" fill="#e66101"/>
<circle cx="1218" cy="39" r="5.35" fill="#5e3c99"/>
<circle cx="1224.5" cy="39" r="5.35" fill="#5e3c99"/>
<circle cx="1228.7" cy="39" r="5.35" fill="#e66101"/>
<circle cx="1235.3" cy="39" r="5.35" fill="#e66101"/>
<circle cx="1246.7" cy="39" r="5.35" fill="#e66101"/>
<circle cx="1266" cy="39" r="5.35" fill="#e66101"/>
<circle cx="1254.7" cy="39" r="5.35" fill="#5e3c99"/>
<circle cx="1261.3" cy="39" r="5.35" fill="#5e3c99"/>
<circle cx="1288.7" cy="39" r="5.35" fill="#e66101"/>
<circle cx="1305.6" cy="39" r="5.35" fill="#e66101"/>
<circle cx="1320.7" cy="39" r="5.35" fill="#e66101"/>
<circle cx="1330" cy="39" r="5.35" fill="#e66101"/>
<circle cx="1380.6" cy="39" r="5.35" fill="#e66101"/>
<circle cx="1394.4" cy="39" r="5.35" fill="#e66101"/>
<circle cx="1467.7" cy="39" r="5.35" fill="#e66101"/>
<circle cx="1168.9" cy="199.8" r="5.35" fill="#5e3c99"/>
<circle cx="1202.5" cy="199.8" r="5.35" fill="#e66101"/>
<circle cx="1241.2" cy="199.8" r="5.35" fill="#e66101"/>
<circle cx="1256.4" cy="199.8" r="5.35" fill="#e66101"/>
<circle cx="1211.9" cy="279.7" r="5.35" fill="#fdb863"/>
<circle cx="1233.4" cy="279.7" r="5.35" fill="#e66101"/>
<circle cx="1308.5" cy="279.7" r="5.35" fill="#5e3c99"/>
<circle cx="1185.5" cy="319.6" r="5.35" fill="#fdb863"/>
<circle cx="1336" cy="319.6" r="5.35" fill="#fdb863"/>
<circle cx="1092.1" cy="339.4" r="5.35" fill="#fdb863"/>
<circle cx="1171.8" cy="339.4" r="5.35" fill="#fdb863"/>
<circle cx="1174.6" cy="339.4" r="5.35" fill="#fdb863"/>
<circle cx="1194.7" cy="339.4" r="5.35" fill="#fdb863"/>
<circle cx="1185.8" cy="339.4" r="5.35" fill="#b2abd2"/>
<circle cx="1326.9" cy="339.4" r="5.35" fill="#fdb863"/>
<circle cx="1383.9" cy="339.4" r="5.35" fill="#fdb863"/>
<circle cx="1130.7" cy="359.4" r="5.35" fill="#fdb863"/>
<circle cx="1148.5" cy="359.4" r="5.35" fill="#b2abd2"/>
<circle cx="1155" cy="359.4" r="5.35" fill="#fdb863"/>
<circle cx="1163.4" cy="359.4" r="5.35" fill="#b2abd2"/>
<circle cx="1166.7" cy="359.4" r="5.35" fill="#b2abd2"/>
<circle cx="1172.3" cy="359.4" r="5.35" fill="#fdb863"/>
<circle cx="1176.5" cy="359.4" r="5.35" fill="#fdb863"/>
<circle cx="1185.4" cy="359.4" r="5.35" fill="#fdb863"/>
<circle cx="1190.5" cy="359.4" r="5.35" fill="#b2abd2"/>
<circle cx="1204.5" cy="359.4" r="5.35" fill="#b2abd2"/>
<circle cx="1242.8" cy="359.4" r="5.35" fill="#fdb863"/>
<line x1="1118.7" y1="466.9" x2="1118.7" y2="820.6" stroke="#e2e2e2" stroke-width="1.3"/>
<line x1="1164.6" y1="466.9" x2="1164.6" y2="820.6" stroke="#e2e2e2" stroke-width="1.3"/>
<line x1="1210.5" y1="466.9" x2="1210.5" y2="820.6" stroke="#e2e2e2" stroke-width="1.3"/>
<line x1="1256.4" y1="466.9" x2="1256.4" y2="820.6" stroke="#e2e2e2" stroke-width="1.3"/>
<line x1="1302.3" y1="466.9" x2="1302.3" y2="820.6" stroke="#e2e2e2" stroke-width="1.3"/>
<line x1="1348.2" y1="466.9" x2="1348.2" y2="820.6" stroke="#e2e2e2" stroke-width="1.3"/>
<line x1="1394.1" y1="466.9" x2="1394.1" y2="820.6" stroke="#e2e2e2" stroke-width="1.3"/>
<line x1="1440" y1="466.9" x2="1440" y2="820.6" stroke="#e2e2e2" stroke-width="1.3"/>
<line x1="1485.9" y1="466.9" x2="1485.9" y2="820.6" stroke="#e2e2e2" stroke-width="1.3"/>
<line x1="1072.8" y1="803.6" x2="1496.9" y2="803.6" stroke="#e2e2e2" stroke-width="1.3"/>
<line x1="1072.8" y1="753.3" x2="1496.9" y2="753.3" stroke="#e2e2e2" stroke-width="1.3"/>
<line x1="1072.8" y1="703" x2="1496.9" y2="703" stroke="#e2e2e2" stroke-width="1.3"/>
<line x1="1072.8" y1="652.7" x2="1496.9" y2="652.7" stroke="#e2e2e2" stroke-width="1.3"/>
<line x1="1072.8" y1="602.4" x2="1496.9" y2="602.4" stroke="#e2e2e2" stroke-width="1.3"/>
<line x1="1072.8" y1="552.1" x2="1496.9" y2="552.1" stroke="#e2e2e2" stroke-width="1.3"/>
<line x1="1072.8" y1="501.8" x2="1496.9" y2="501.8" stroke="#e2e2e2" stroke-width="1.3"/>
<rect x="1072.8" y="466.9" width="424.1" height="353.7" fill="none" stroke="#b3b3b3" stroke-width="1.3"/>
<line x1="1066.4" y1="803.6" x2="1072.8" y2="803.6" stroke="#b3b3b3" stroke-width="1.1"/>
<text x="1062.8" y="814" font-size="26" text-anchor="end" fill="#000">0</text>
<line x1="1066.4" y1="703" x2="1072.8" y2="703" stroke="#b3b3b3" stroke-width="1.1"/>
<text x="1062.8" y="713.4" font-size="26" text-anchor="end" fill="#000">200</text>
<line x1="1066.4" y1="602.4" x2="1072.8" y2="602.4" stroke="#b3b3b3" stroke-width="1.1"/>
<text x="1062.8" y="612.8" font-size="26" text-anchor="end" fill="#000">400</text>
<line x1="1066.4" y1="501.8" x2="1072.8" y2="501.8" stroke="#b3b3b3" stroke-width="1.1"/>
<text x="1062.8" y="512.2" font-size="26" text-anchor="end" fill="#000">600</text>
<line x1="1118.7" y1="820.6" x2="1118.7" y2="825.1" stroke="#b3b3b3" stroke-width="1.1"/>
<text x="1119" y="849" font-size="26" text-anchor="middle" fill="#000">0</text>
<line x1="1210.5" y1="820.6" x2="1210.5" y2="825.1" stroke="#b3b3b3" stroke-width="1.1"/>
<text x="1209.3" y="849" font-size="26" text-anchor="middle" fill="#000">1</text>
<line x1="1302.3" y1="820.6" x2="1302.3" y2="825.1" stroke="#b3b3b3" stroke-width="1.1"/>
<text x="1302" y="849" font-size="26" text-anchor="middle" fill="#000">2</text>
<line x1="1394.1" y1="820.6" x2="1394.1" y2="825.1" stroke="#b3b3b3" stroke-width="1.1"/>
<text x="1392.3" y="849" font-size="26" text-anchor="middle" fill="#000">3</text>
<line x1="1485.9" y1="820.6" x2="1485.9" y2="825.1" stroke="#b3b3b3" stroke-width="1.1"/>
<text x="1484.2" y="849" font-size="26" text-anchor="middle" fill="#000">4</text>
<text x="1289.3" y="877.2" font-size="26.5" text-anchor="middle" fill="#000">Dengue VARscore</text>
<text transform="translate(1007.4,654.9) rotate(-90)" x="0" y="0" font-size="26.4" text-anchor="middle" fill="#000">Dengue PRNT</text>
<text x="1349.4" y="699.9" font-size="26" text-anchor="start" fill="#000">rho = 0.49</text>
<text x="1349.4" y="731" font-size="26" text-anchor="start" fill="#000">p &lt; 2.9e-8</text>
<circle cx="1107.7" cy="481.9" r="4.9" fill="#e66101" fill-opacity="0.5" stroke="#e66101" stroke-opacity="0.62" stroke-width="1.2"/>
<circle cx="1117.7" cy="481.9" r="4.9" fill="#5e3c99" fill-opacity="0.5" stroke="#5e3c99" stroke-opacity="0.62" stroke-width="1.2"/>
<circle cx="1121.6" cy="481.9" r="4.9" fill="#5e3c99" fill-opacity="0.5" stroke="#5e3c99" stroke-opacity="0.62" stroke-width="1.2"/>
<circle cx="1121" cy="481.9" r="4.9" fill="#5e3c99" fill-opacity="0.5" stroke="#5e3c99" stroke-opacity="0.62" stroke-width="1.2"/>
<circle cx="1143" cy="481.9" r="4.9" fill="#5e3c99" fill-opacity="0.5" stroke="#5e3c99" stroke-opacity="0.62" stroke-width="1.2"/>
<circle cx="1123" cy="481.9" r="4.9" fill="#5e3c99" fill-opacity="0.5" stroke="#5e3c99" stroke-opacity="0.62" stroke-width="1.2"/>
<circle cx="1125" cy="481.9" r="4.9" fill="#5e3c99" fill-opacity="0.5" stroke="#5e3c99" stroke-opacity="0.62" stroke-width="1.2"/>
<circle cx="1127.9" cy="481.9" r="4.9" fill="#5e3c99" fill-opacity="0.5" stroke="#5e3c99" stroke-opacity="0.62" stroke-width="1.2"/>
<circle cx="1139.2" cy="481.9" r="4.9" fill="#5e3c99" fill-opacity="0.5" stroke="#5e3c99" stroke-opacity="0.62" stroke-width="1.2"/>
<circle cx="1142.6" cy="481.9" r="4.9" fill="#5e3c99" fill-opacity="0.5" stroke="#5e3c99" stroke-opacity="0.62" stroke-width="1.2"/>
<circle cx="1146" cy="481.9" r="4.9" fill="#5e3c99" fill-opacity="0.5" stroke="#5e3c99" stroke-opacity="0.62" stroke-width="1.2"/>
<circle cx="1157.1" cy="481.9" r="4.9" fill="#5e3c99" fill-opacity="0.5" stroke="#5e3c99" stroke-opacity="0.62" stroke-width="1.2"/>
<circle cx="1168.1" cy="481.9" r="4.9" fill="#e66101" fill-opacity="0.5" stroke="#e66101" stroke-opacity="0.62" stroke-width="1.2"/>
<circle cx="1170" cy="481.9" r="4.9" fill="#e66101" fill-opacity="0.5" stroke="#e66101" stroke-opacity="0.62" stroke-width="1.2"/>
<circle cx="1171.5" cy="481.9" r="4.9" fill="#e66101" fill-opacity="0.5" stroke="#e66101" stroke-opacity="0.62" stroke-width="1.2"/>
<circle cx="1174.3" cy="481.9" r="4.9" fill="#e66101" fill-opacity="0.5" stroke="#e66101" stroke-opacity="0.62" stroke-width="1.2"/>
<circle cx="1180" cy="481.9" r="4.9" fill="#e66101" fill-opacity="0.5" stroke="#e66101" stroke-opacity="0.62" stroke-width="1.2"/>
<circle cx="1191.9" cy="481.9" r="4.9" fill="#e66101" fill-opacity="0.5" stroke="#e66101" stroke-opacity="0.62" stroke-width="1.2"/>
<circle cx="1198.1" cy="481.9" r="4.9" fill="#e66101" fill-opacity="0.5" stroke="#e66101" stroke-opacity="0.62" stroke-width="1.2"/>
<circle cx="1204.4" cy="481.9" r="4.9" fill="#5e3c99" fill-opacity="0.5" stroke="#5e3c99" stroke-opacity="0.62" stroke-width="1.2"/>
<circle cx="1210.6" cy="481.9" r="4.9" fill="#e66101" fill-opacity="0.5" stroke="#e66101" stroke-opacity="0.62" stroke-width="1.2"/>
<circle cx="1212" cy="481.9" r="4.9" fill="#e66101" fill-opacity="0.5" stroke="#e66101" stroke-opacity="0.62" stroke-width="1.2"/>
<circle cx="1214" cy="481.9" r="4.9" fill="#e66101" fill-opacity="0.5" stroke="#e66101" stroke-opacity="0.62" stroke-width="1.2"/>
<circle cx="1229.3" cy="481.9" r="4.9" fill="#e66101" fill-opacity="0.5" stroke="#e66101" stroke-opacity="0.62" stroke-width="1.2"/>
<circle cx="1247.4" cy="481.9" r="4.9" fill="#e66101" fill-opacity="0.5" stroke="#e66101" stroke-opacity="0.62" stroke-width="1.2"/>
<circle cx="1255.4" cy="481.9" r="4.9" fill="#e66101" fill-opacity="0.5" stroke="#e66101" stroke-opacity="0.62" stroke-width="1.2"/>
<circle cx="1293.6" cy="481.9" r="4.9" fill="#e66101" fill-opacity="0.5" stroke="#e66101" stroke-opacity="0.62" stroke-width="1.2"/>
<circle cx="1375.3" cy="481.9" r="4.9" fill="#e66101" fill-opacity="0.5" stroke="#e66101" stroke-opacity="0.62" stroke-width="1.2"/>
<circle cx="1401.1" cy="481.9" r="4.9" fill="#e66101" fill-opacity="0.5" stroke="#e66101" stroke-opacity="0.62" stroke-width="1.2"/>
<circle cx="1424.6" cy="481.9" r="4.9" fill="#e66101" fill-opacity="0.5" stroke="#e66101" stroke-opacity="0.62" stroke-width="1.2"/>
<circle cx="1476.5" cy="481.9" r="4.9" fill="#e66101" fill-opacity="0.5" stroke="#e66101" stroke-opacity="0.62" stroke-width="1.2"/>
<circle cx="1099.9" cy="643.4" r="4.9" fill="#e66101" fill-opacity="0.5" stroke="#e66101" stroke-opacity="0.62" stroke-width="1.2"/>
<circle cx="1099.9" cy="643.4" r="4.9" fill="#e66101" fill-opacity="0.5" stroke="#e66101" stroke-opacity="0.62" stroke-width="1.2"/>
<circle cx="1108.3" cy="643.4" r="4.9" fill="#e66101" fill-opacity="0.5" stroke="#e66101" stroke-opacity="0.62" stroke-width="1.2"/>
<circle cx="1131.3" cy="643.4" r="4.9" fill="#e66101" fill-opacity="0.5" stroke="#e66101" stroke-opacity="0.62" stroke-width="1.2"/>
<circle cx="1135.2" cy="643.4" r="4.9" fill="#5e3c99" fill-opacity="0.5" stroke="#5e3c99" stroke-opacity="0.62" stroke-width="1.2"/>
<circle cx="1138.2" cy="643.4" r="4.9" fill="#e66101" fill-opacity="0.5" stroke="#e66101" stroke-opacity="0.62" stroke-width="1.2"/>
<circle cx="1149.5" cy="643.4" r="4.9" fill="#e66101" fill-opacity="0.5" stroke="#e66101" stroke-opacity="0.62" stroke-width="1.2"/>
<circle cx="1151.5" cy="643.4" r="4.9" fill="#e66101" fill-opacity="0.5" stroke="#e66101" stroke-opacity="0.62" stroke-width="1.2"/>
<circle cx="1170.9" cy="643.4" r="4.9" fill="#e66101" fill-opacity="0.5" stroke="#e66101" stroke-opacity="0.62" stroke-width="1.2"/>
<circle cx="1229.5" cy="643.4" r="4.9" fill="#e66101" fill-opacity="0.5" stroke="#e66101" stroke-opacity="0.62" stroke-width="1.2"/>
<circle cx="1118.3" cy="723.3" r="4.9" fill="#5e3c99" fill-opacity="0.5" stroke="#5e3c99" stroke-opacity="0.62" stroke-width="1.2"/>
<circle cx="1128.1" cy="723.3" r="4.9" fill="#e66101" fill-opacity="0.5" stroke="#e66101" stroke-opacity="0.62" stroke-width="1.2"/>
<circle cx="1135.7" cy="723.3" r="4.9" fill="#e66101" fill-opacity="0.5" stroke="#e66101" stroke-opacity="0.62" stroke-width="1.2"/>
<circle cx="1144.6" cy="723.3" r="4.9" fill="#e66101" fill-opacity="0.5" stroke="#e66101" stroke-opacity="0.62" stroke-width="1.2"/>
<circle cx="1153.4" cy="723.3" r="4.9" fill="#fdb863" fill-opacity="0.5" stroke="#fdb863" stroke-opacity="0.62" stroke-width="1.2"/>
<circle cx="1179.5" cy="723.3" r="4.9" fill="#fdb863" fill-opacity="0.5" stroke="#fdb863" stroke-opacity="0.62" stroke-width="1.2"/>
<circle cx="1177" cy="723.3" r="4.9" fill="#5e3c99" fill-opacity="0.5" stroke="#5e3c99" stroke-opacity="0.62" stroke-width="1.2"/>
<circle cx="1200.3" cy="723.3" r="4.9" fill="#fdb863" fill-opacity="0.5" stroke="#fdb863" stroke-opacity="0.62" stroke-width="1.2"/>
<circle cx="1203.7" cy="723.3" r="4.9" fill="#fdb863" fill-opacity="0.5" stroke="#fdb863" stroke-opacity="0.62" stroke-width="1.2"/>
<circle cx="1215" cy="723.3" r="4.9" fill="#fdb863" fill-opacity="0.5" stroke="#fdb863" stroke-opacity="0.62" stroke-width="1.2"/>
<circle cx="1218.3" cy="723.3" r="4.9" fill="#fdb863" fill-opacity="0.5" stroke="#fdb863" stroke-opacity="0.62" stroke-width="1.2"/>
<circle cx="1115.4" cy="763.3" r="4.9" fill="#e66101" fill-opacity="0.5" stroke="#e66101" stroke-opacity="0.62" stroke-width="1.2"/>
<circle cx="1166.3" cy="763.3" r="4.9" fill="#5e3c99" fill-opacity="0.5" stroke="#5e3c99" stroke-opacity="0.62" stroke-width="1.2"/>
<circle cx="1225" cy="763.3" r="4.9" fill="#5e3c99" fill-opacity="0.5" stroke="#5e3c99" stroke-opacity="0.62" stroke-width="1.2"/>
<circle cx="1108" cy="783.2" r="4.9" fill="#fdb863" fill-opacity="0.5" stroke="#fdb863" stroke-opacity="0.62" stroke-width="1.2"/>
<circle cx="1153.6" cy="783.2" r="4.9" fill="#fdb863" fill-opacity="0.5" stroke="#fdb863" stroke-opacity="0.62" stroke-width="1.2"/>
<circle cx="1163.5" cy="783.2" r="4.9" fill="#fdb863" fill-opacity="0.5" stroke="#fdb863" stroke-opacity="0.62" stroke-width="1.2"/>
<circle cx="1164.5" cy="783.2" r="4.9" fill="#fdb863" fill-opacity="0.5" stroke="#fdb863" stroke-opacity="0.62" stroke-width="1.2"/>
<circle cx="1136" cy="794" r="4.9" fill="#e66101" fill-opacity="0.5" stroke="#e66101" stroke-opacity="0.62" stroke-width="1.2"/>
<circle cx="1142.4" cy="794" r="4.9" fill="#fdb863" fill-opacity="0.5" stroke="#fdb863" stroke-opacity="0.62" stroke-width="1.2"/>
<circle cx="1146.4" cy="794" r="4.9" fill="#fdb863" fill-opacity="0.5" stroke="#fdb863" stroke-opacity="0.62" stroke-width="1.2"/>
<circle cx="1150.4" cy="794" r="4.9" fill="#fdb863" fill-opacity="0.5" stroke="#fdb863" stroke-opacity="0.62" stroke-width="1.2"/>
<circle cx="1152" cy="794" r="4.9" fill="#fdb863" fill-opacity="0.5" stroke="#fdb863" stroke-opacity="0.62" stroke-width="1.2"/>
<circle cx="1155.2" cy="794" r="4.9" fill="#fdb863" fill-opacity="0.5" stroke="#fdb863" stroke-opacity="0.62" stroke-width="1.2"/>
<circle cx="1157.6" cy="794" r="4.9" fill="#fdb863" fill-opacity="0.5" stroke="#fdb863" stroke-opacity="0.62" stroke-width="1.2"/>
<circle cx="1160" cy="794" r="4.9" fill="#fdb863" fill-opacity="0.5" stroke="#fdb863" stroke-opacity="0.62" stroke-width="1.2"/>
<circle cx="1184.4" cy="794" r="4.9" fill="#5e3c99" fill-opacity="0.5" stroke="#5e3c99" stroke-opacity="0.62" stroke-width="1.2"/>
<circle cx="1191.6" cy="794" r="4.9" fill="#fdb863" fill-opacity="0.5" stroke="#fdb863" stroke-opacity="0.62" stroke-width="1.2"/>
<circle cx="1205" cy="794" r="4.9" fill="#5e3c99" fill-opacity="0.5" stroke="#5e3c99" stroke-opacity="0.62" stroke-width="1.2"/>
<circle cx="1231" cy="794" r="4.9" fill="#5e3c99" fill-opacity="0.5" stroke="#5e3c99" stroke-opacity="0.62" stroke-width="1.2"/>
<circle cx="1252.3" cy="794" r="4.9" fill="#5e3c99" fill-opacity="0.5" stroke="#5e3c99" stroke-opacity="0.62" stroke-width="1.2"/>
<circle cx="1092" cy="803.2" r="4.9" fill="#b2abd2" fill-opacity="0.5" stroke="#b2abd2" stroke-opacity="0.62" stroke-width="1.2"/>
<circle cx="1101.5" cy="803.2" r="4.9" fill="#5e3c99" fill-opacity="0.5" stroke="#5e3c99" stroke-opacity="0.62" stroke-width="1.2"/>
<circle cx="1110" cy="803.2" r="4.9" fill="#b2abd2" fill-opacity="0.5" stroke="#b2abd2" stroke-opacity="0.62" stroke-width="1.2"/>
<circle cx="1110.4" cy="803.2" r="4.9" fill="#fdb863" fill-opacity="0.5" stroke="#fdb863" stroke-opacity="0.62" stroke-width="1.2"/>
<circle cx="1113.6" cy="803.2" r="4.9" fill="#fdb863" fill-opacity="0.5" stroke="#fdb863" stroke-opacity="0.62" stroke-width="1.2"/>
<circle cx="1116.8" cy="803.2" r="4.9" fill="#fdb863" fill-opacity="0.5" stroke="#fdb863" stroke-opacity="0.62" stroke-width="1.2"/>
<circle cx="1119" cy="803.2" r="4.9" fill="#b2abd2" fill-opacity="0.5" stroke="#b2abd2" stroke-opacity="0.62" stroke-width="1.2"/>
<circle cx="1120.8" cy="803.2" r="4.9" fill="#fdb863" fill-opacity="0.5" stroke="#fdb863" stroke-opacity="0.62" stroke-width="1.2"/>
<circle cx="1124.8" cy="803.2" r="4.9" fill="#fdb863" fill-opacity="0.5" stroke="#fdb863" stroke-opacity="0.62" stroke-width="1.2"/>
<circle cx="1128" cy="803.2" r="4.9" fill="#fdb863" fill-opacity="0.5" stroke="#fdb863" stroke-opacity="0.62" stroke-width="1.2"/>
<circle cx="1132" cy="803.2" r="4.9" fill="#fdb863" fill-opacity="0.5" stroke="#fdb863" stroke-opacity="0.62" stroke-width="1.2"/>
<circle cx="1136" cy="803.2" r="4.9" fill="#fdb863" fill-opacity="0.5" stroke="#fdb863" stroke-opacity="0.62" stroke-width="1.2"/>
<circle cx="1133" cy="803.2" r="4.9" fill="#b2abd2" fill-opacity="0.5" stroke="#b2abd2" stroke-opacity="0.62" stroke-width="1.2"/>
<circle cx="1140" cy="803.2" r="4.9" fill="#fdb863" fill-opacity="0.5" stroke="#fdb863" stroke-opacity="0.62" stroke-width="1.2"/>
<circle cx="1144" cy="803.2" r="4.9" fill="#fdb863" fill-opacity="0.5" stroke="#fdb863" stroke-opacity="0.62" stroke-width="1.2"/>
<circle cx="1148" cy="803.2" r="4.9" fill="#fdb863" fill-opacity="0.5" stroke="#fdb863" stroke-opacity="0.62" stroke-width="1.2"/>
<circle cx="1152" cy="803.2" r="4.9" fill="#fdb863" fill-opacity="0.5" stroke="#fdb863" stroke-opacity="0.62" stroke-width="1.2"/>
<circle cx="1156.8" cy="803.2" r="4.9" fill="#fdb863" fill-opacity="0.5" stroke="#fdb863" stroke-opacity="0.62" stroke-width="1.2"/>
<circle cx="1145" cy="803.2" r="4.9" fill="#fdb863" fill-opacity="0.5" stroke="#fdb863" stroke-opacity="0.62" stroke-width="1.2"/>
<circle cx="1130" cy="803.2" r="4.9" fill="#fdb863" fill-opacity="0.5" stroke="#fdb863" stroke-opacity="0.62" stroke-width="1.2"/>
<circle cx="1187.6" cy="803.2" r="4.9" fill="#5e3c99" fill-opacity="0.5" stroke="#5e3c99" stroke-opacity="0.62" stroke-width="1.2"/>
<line x1="125.4" y1="789.81" x2="949.1" y2="789.81" stroke="#e2e2e2" stroke-width="1.3"/>
<line x1="125.4" y1="773.4" x2="949.1" y2="773.4" stroke="#e2e2e2" stroke-width="1.3"/>
<line x1="125.4" y1="756.99" x2="949.1" y2="756.99" stroke="#e2e2e2" stroke-width="1.3"/>
<line x1="125.4" y1="740.57" x2="949.1" y2="740.57" stroke="#e2e2e2" stroke-width="1.3"/>
<line x1="125.4" y1="724.16" x2="949.1" y2="724.16" stroke="#e2e2e2" stroke-width="1.3"/>
<line x1="125.4" y1="707.75" x2="949.1" y2="707.75" stroke="#e2e2e2" stroke-width="1.3"/>
<line x1="125.4" y1="691.34" x2="949.1" y2="691.34" stroke="#e2e2e2" stroke-width="1.3"/>
<line x1="125.4" y1="674.92" x2="949.1" y2="674.92" stroke="#e2e2e2" stroke-width="1.3"/>
<line x1="125.4" y1="658.51" x2="949.1" y2="658.51" stroke="#e2e2e2" stroke-width="1.3"/>
<line x1="125.4" y1="642.1" x2="949.1" y2="642.1" stroke="#e2e2e2" stroke-width="1.3"/>
<line x1="133.5" y1="627.5" x2="133.5" y2="794.8" stroke="#e2e2e2" stroke-width="1.3"/>
<line x1="165.1" y1="627.5" x2="165.1" y2="794.8" stroke="#e2e2e2" stroke-width="1.3"/>
<line x1="198.3" y1="627.5" x2="198.3" y2="794.8" stroke="#e2e2e2" stroke-width="1.3"/>
<line x1="223.4" y1="627.5" x2="223.4" y2="794.8" stroke="#e2e2e2" stroke-width="1.3"/>
<line x1="248.7" y1="627.5" x2="248.7" y2="794.8" stroke="#e2e2e2" stroke-width="1.3"/>
<line x1="268.6" y1="627.5" x2="268.6" y2="794.8" stroke="#e2e2e2" stroke-width="1.3"/>
<line x1="288.4" y1="627.5" x2="288.4" y2="794.8" stroke="#e2e2e2" stroke-width="1.3"/>
<line x1="424.4" y1="627.5" x2="424.4" y2="794.8" stroke="#e2e2e2" stroke-width="1.3"/>
<line x1="558.4" y1="627.5" x2="558.4" y2="794.8" stroke="#e2e2e2" stroke-width="1.3"/>
<line x1="653" y1="627.5" x2="653" y2="794.8" stroke="#e2e2e2" stroke-width="1.3"/>
<line x1="747.5" y1="627.5" x2="747.5" y2="794.8" stroke="#e2e2e2" stroke-width="1.3"/>
<line x1="808.4" y1="627.5" x2="808.4" y2="794.8" stroke="#e2e2e2" stroke-width="1.3"/>
<line x1="869.5" y1="627.5" x2="869.5" y2="794.8" stroke="#e2e2e2" stroke-width="1.3"/>
<line x1="904.5" y1="627.5" x2="904.5" y2="794.8" stroke="#e2e2e2" stroke-width="1.3"/>
<line x1="939.9" y1="627.5" x2="939.9" y2="794.8" stroke="#e2e2e2" stroke-width="1.3"/>
<text x="122.8" y="780.9" font-size="21" text-anchor="end" fill="#000">0</text>
<text x="122.8" y="715.25" font-size="21" text-anchor="end" fill="#000">50</text>
<text x="122.8" y="649.6" font-size="21" text-anchor="end" fill="#000">100</text>
<text transform="translate(52.7,716.1) rotate(-90)" x="0" y="0" font-size="26" text-anchor="middle" fill="#000">Percent of Samples</text>
<text transform="translate(84.8,716.8) rotate(-90)" x="0" y="0" font-size="26.9" text-anchor="middle" fill="#000">Reactive</text>
<text x="539" y="828" font-size="26.3" text-anchor="middle" fill="#000">Zika Genome Position</text>
<text x="-0.5" y="592" font-size="40" text-anchor="start" fill="#000">c</text>
<rect x="132.9" y="779.5" width="65.4" height="3.9" fill="#808080" stroke="#3a3a3a" stroke-width="1.2"/>
<rect x="198.3" y="775.3" width="50.4" height="4" fill="#808080" stroke="#3a3a3a" stroke-width="1.2"/>
<rect x="248.7" y="779.5" width="39.7" height="3.9" fill="#808080" stroke="#3a3a3a" stroke-width="1.2"/>
<rect x="288.4" y="775.3" width="270" height="4" fill="#808080" stroke="#3a3a3a" stroke-width="1.2"/>
<rect x="558.4" y="779.5" width="189.1" height="3.9" fill="#808080" stroke="#3a3a3a" stroke-width="1.2"/>
<rect x="747.5" y="775.3" width="122" height="4" fill="#808080" stroke="#3a3a3a" stroke-width="1.2"/>
<rect x="869.5" y="779.5" width="70.4" height="3.9" fill="#808080" stroke="#3a3a3a" stroke-width="1.2"/>
<text transform="translate(163.8,793.9) scale(0.88,1)" x="0" y="0" font-size="16.4" text-anchor="middle" fill="#1e1e30">C</text>
<text transform="translate(222.1,793.9) scale(0.88,1)" x="0" y="0" font-size="16.4" text-anchor="middle" fill="#1e1e30">PR</text>
<text transform="translate(267.4,793.9) scale(0.88,1)" x="0" y="0" font-size="16.4" text-anchor="middle" fill="#1e1e30">M</text>
<text transform="translate(423.5,793.9) scale(0.88,1)" x="0" y="0" font-size="16.4" text-anchor="middle" fill="#1e1e30">E</text>
<text transform="translate(652,793.9) scale(0.88,1)" x="0" y="0" font-size="16.4" text-anchor="middle" fill="#1e1e30">NS1</text>
<text transform="translate(807.7,793.9) scale(0.88,1)" x="0" y="0" font-size="16.4" text-anchor="middle" fill="#1e1e30">NS2a</text>
<text transform="translate(904,793.9) scale(0.88,1)" x="0" y="0" font-size="16.4" text-anchor="middle" fill="#1e1e30">NS2b</text>
<line x1="163.1" y1="759.4" x2="194.9" y2="759.4" stroke="#fdb863" stroke-width="4.7" stroke-linecap="round"/>
<line x1="163.1" y1="756.8" x2="227.1" y2="756.8" stroke="#5e3c99" stroke-width="4.7" stroke-linecap="round"/>
<line x1="163.1" y1="717.6" x2="194.9" y2="717.6" stroke="#e66101" stroke-width="4.7" stroke-linecap="round"/>
<line x1="195.9" y1="759" x2="227.1" y2="759" stroke="#e66101" stroke-width="4.7" stroke-linecap="round"/>
<line x1="228.5" y1="723.2" x2="259.7" y2="723.2" stroke="#5e3c99" stroke-width="4.7" stroke-linecap="round"/>
<line x1="228.5" y1="751.7" x2="259.7" y2="751.7" stroke="#e66101" stroke-width="4.7" stroke-linecap="round"/>
<line x1="276.7" y1="724.7" x2="307.5" y2="724.7" stroke="#e66101" stroke-width="4.7" stroke-linecap="round"/>
<line x1="276.7" y1="751.5" x2="307.5" y2="751.5" stroke="#fdb863" stroke-width="4.7" stroke-linecap="round"/>
<line x1="276.7" y1="757.3" x2="307.5" y2="757.3" stroke="#5e3c99" stroke-width="4.7" stroke-linecap="round"/>
<line x1="326.1" y1="724.7" x2="355.7" y2="724.7" stroke="#e66101" stroke-width="4.7" stroke-linecap="round"/>
<line x1="326.1" y1="740.1" x2="355.7" y2="740.1" stroke="#5e3c99" stroke-width="4.7" stroke-linecap="round"/>
<line x1="326.1" y1="758.8" x2="355.7" y2="758.8" stroke="#fdb863" stroke-width="4.7" stroke-linecap="round"/>
<line x1="355.7" y1="758.8" x2="372.5" y2="758.8" stroke="#e66101" stroke-width="4.7" stroke-linecap="round"/>
<line x1="568.9" y1="740.1" x2="598.2" y2="740.1" stroke="#5e3c99" stroke-width="4.7" stroke-linecap="round"/>
<line x1="568.9" y1="751.7" x2="598.2" y2="751.7" stroke="#fdb863" stroke-width="4.7" stroke-linecap="round"/>
<line x1="600.6" y1="751.7" x2="615.7" y2="751.7" stroke="#e66101" stroke-width="4.7" stroke-linecap="round"/>
<line x1="568.9" y1="759" x2="598.2" y2="759" stroke="#e66101" stroke-width="4.7" stroke-linecap="round"/>
<line x1="617.8" y1="740.1" x2="646.8" y2="740.1" stroke="#5e3c99" stroke-width="4.7" stroke-linecap="round"/>
<line x1="617.8" y1="746.1" x2="646.8" y2="746.1" stroke="#e66101" stroke-width="4.7" stroke-linecap="round"/>
<line x1="647.2" y1="757.3" x2="662.5" y2="757.3" stroke="#5e3c99" stroke-width="4.7" stroke-linecap="round"/>
<line x1="844.6" y1="707.5" x2="872.2" y2="707.5" stroke="#5e3c99" stroke-width="4.7" stroke-linecap="round"/>
<line x1="873.5" y1="723.4" x2="888.2" y2="723.4" stroke="#5e3c99" stroke-width="4.7" stroke-linecap="round"/>
<line x1="844.6" y1="738.4" x2="889.3" y2="738.4" stroke="#e66101" stroke-width="4.7" stroke-linecap="round"/>
<line x1="844.6" y1="751.7" x2="872.2" y2="751.7" stroke="#fdb863" stroke-width="4.7" stroke-linecap="round"/>
<line x1="873.5" y1="758.8" x2="888.2" y2="758.8" stroke="#fdb863" stroke-width="4.7" stroke-linecap="round"/>
<line x1="890.7" y1="757.3" x2="889.3" y2="757.3" stroke="#5e3c99" stroke-width="4.7" stroke-linecap="round"/>
<line x1="891.8" y1="673.6" x2="921" y2="673.6" stroke="#5e3c99" stroke-width="4.7" stroke-linecap="round"/>
<line x1="891.8" y1="689.3" x2="921" y2="689.3" stroke="#e66101" stroke-width="4.7" stroke-linecap="round"/>
<line x1="891.8" y1="751.5" x2="921" y2="751.5" stroke="#fdb863" stroke-width="4.7" stroke-linecap="round"/>
<line x1="906.8" y1="757.3" x2="937.6" y2="757.3" stroke="#b2abd2" stroke-width="4.7" stroke-linecap="round"/>
</svg></body></html>
